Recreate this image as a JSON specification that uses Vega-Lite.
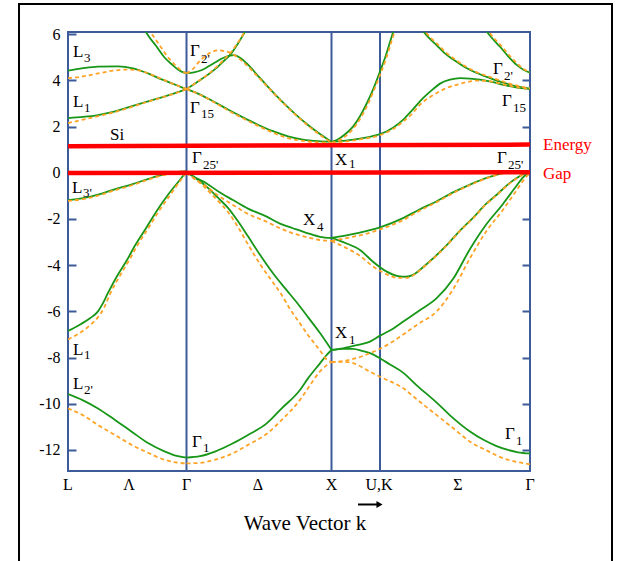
{
"$schema": "https://vega.github.io/schema/vega-lite/v6.json",
"width": 462, "height": 439,
"autosize": {"type": "none"},
"padding": {"left": 68, "top": 32, "right": 87, "bottom": 90},
"background": "white",
"config": {"view": {"stroke": "#3d5a99", "strokeWidth": 2}, "font": "Liberation Serif, Times New Roman, serif"},
"datasets": {
"green": [
{"b":"g1","x":0,"E":4.42},{"b":"g1","x":15,"E":4.53},{"b":"g1","x":30,"E":4.6},{"b":"g1","x":50,"E":4.61},{"b":"g1","x":65,"E":4.52},{"b":"g1","x":80,"E":4.3},{"b":"g1","x":95,"E":4.02},{"b":"g1","x":108,"E":3.8},{"b":"g1","x":118.5,"E":3.62},
{"b":"g2","x":0,"E":2.37},{"b":"g2","x":15,"E":2.42},{"b":"g2","x":30,"E":2.5},{"b":"g2","x":45,"E":2.64},{"b":"g2","x":60,"E":2.83},{"b":"g2","x":75,"E":3.03},{"b":"g2","x":90,"E":3.22},{"b":"g2","x":105,"E":3.42},{"b":"g2","x":118.5,"E":3.62},
{"b":"g3","x":76,"E":6.25},{"b":"g3","x":80,"E":5.95},{"b":"g3","x":88,"E":5.5},{"b":"g3","x":97,"E":4.97},{"b":"g3","x":105,"E":4.65},{"b":"g3","x":110,"E":4.47},{"b":"g3","x":114,"E":4.37},{"b":"g3","x":118.5,"E":4.32},
{"b":"g4","x":118.5,"E":3.62},{"b":"g4","x":130,"E":3.95},{"b":"g4","x":140,"E":4.25},{"b":"g4","x":148,"E":4.52},{"b":"g4","x":156,"E":4.85},{"b":"g4","x":163,"E":5.15},{"b":"g4","x":170,"E":5.6},{"b":"g4","x":177,"E":6.1},{"b":"g4","x":181,"E":6.4},
{"b":"g5","x":118.5,"E":4.32},{"b":"g5","x":126,"E":4.35},{"b":"g5","x":134,"E":4.45},{"b":"g5","x":141,"E":4.62},{"b":"g5","x":148,"E":4.8},{"b":"g5","x":155,"E":4.97},{"b":"g5","x":162,"E":5.07},{"b":"g5","x":166,"E":5.09},{"b":"g5","x":172,"E":4.98},{"b":"g5","x":180,"E":4.68},{"b":"g5","x":190,"E":4.2},{"b":"g5","x":200,"E":3.72},{"b":"g5","x":213.7,"E":3.1},{"b":"g5","x":227,"E":2.55},{"b":"g5","x":240,"E":2.07},{"b":"g5","x":252,"E":1.68},{"b":"g5","x":263.5,"E":1.34},
{"b":"g6","x":118.5,"E":3.62},{"b":"g6","x":130,"E":3.43},{"b":"g6","x":145,"E":3.1},{"b":"g6","x":160,"E":2.74},{"b":"g6","x":175,"E":2.4},{"b":"g6","x":190,"E":2.08},{"b":"g6","x":205,"E":1.8},{"b":"g6","x":220,"E":1.58},{"b":"g6","x":235,"E":1.44},{"b":"g6","x":250,"E":1.37},{"b":"g6","x":263.5,"E":1.34},
{"b":"g7","x":263.5,"E":1.34},{"b":"g7","x":268.7,"E":1.42},{"b":"g7","x":278,"E":1.7},{"b":"g7","x":285,"E":2.0},{"b":"g7","x":292,"E":2.45},{"b":"g7","x":298.7,"E":3.0},{"b":"g7","x":305,"E":3.6},{"b":"g7","x":312,"E":4.38},{"b":"g7","x":318,"E":5.1},{"b":"g7","x":325.3,"E":6.1},{"b":"g7","x":328,"E":6.4},
{"b":"g8","x":263.5,"E":1.34},{"b":"g8","x":275,"E":1.38},{"b":"g8","x":290,"E":1.47},{"b":"g8","x":302,"E":1.56},{"b":"g8","x":312,"E":1.67},{"b":"g8","x":325,"E":1.95},{"b":"g8","x":335.3,"E":2.3},{"b":"g8","x":345,"E":2.75},{"b":"g8","x":355.3,"E":3.24},{"b":"g8","x":365,"E":3.62},{"b":"g8","x":372,"E":3.86},{"b":"g8","x":382,"E":4.03},{"b":"g8","x":392,"E":4.1},{"b":"g8","x":402,"E":4.08},{"b":"g8","x":412,"E":4.03},{"b":"g8","x":425,"E":3.92},{"b":"g8","x":435.3,"E":3.81},{"b":"g8","x":448,"E":3.7},{"b":"g8","x":462,"E":3.63},
{"b":"g9","x":352,"E":6.3},{"b":"g9","x":355.3,"E":6.12},{"b":"g9","x":360,"E":5.88},{"b":"g9","x":368.7,"E":5.52},{"b":"g9","x":376,"E":5.2},{"b":"g9","x":385.3,"E":4.9},{"b":"g9","x":397,"E":4.57},{"b":"g9","x":408.7,"E":4.32},{"b":"g9","x":422,"E":4.1},{"b":"g9","x":435.3,"E":3.9},{"b":"g9","x":448,"E":3.75},{"b":"g9","x":462,"E":3.64},
{"b":"g10","x":416,"E":6.3},{"b":"g10","x":418.7,"E":6.12},{"b":"g10","x":425,"E":5.78},{"b":"g10","x":432,"E":5.46},{"b":"g10","x":440,"E":5.05},{"b":"g10","x":448.7,"E":4.67},{"b":"g10","x":455,"E":4.47},{"b":"g10","x":462,"E":4.33},
{"b":"g11","x":0,"E":-1.19},{"b":"g11","x":15,"E":-1.1},{"b":"g11","x":30,"E":-0.95},{"b":"g11","x":45,"E":-0.74},{"b":"g11","x":64,"E":-0.5},{"b":"g11","x":80,"E":-0.27},{"b":"g11","x":97,"E":-0.06},{"b":"g11","x":108,"E":0.03},{"b":"g11","x":118.5,"E":0.06},
{"b":"g12","x":0,"E":-6.85},{"b":"g12","x":10,"E":-6.62},{"b":"g12","x":22,"E":-6.3},{"b":"g12","x":30,"E":-6.0},{"b":"g12","x":34,"E":-5.72},{"b":"g12","x":40,"E":-5.2},{"b":"g12","x":50,"E":-4.4},{"b":"g12","x":58.7,"E":-3.8},{"b":"g12","x":67,"E":-3.15},{"b":"g12","x":78,"E":-2.4},{"b":"g12","x":88.7,"E":-1.65},{"b":"g12","x":100,"E":-0.95},{"b":"g12","x":112,"E":-0.3},{"b":"g12","x":118.5,"E":0.06},
{"b":"g13","x":0,"E":-9.58},{"b":"g13","x":15,"E":-9.85},{"b":"g13","x":30,"E":-10.2},{"b":"g13","x":47,"E":-10.7},{"b":"g13","x":63.7,"E":-11.21},{"b":"g13","x":80,"E":-11.7},{"b":"g13","x":97,"E":-12.07},{"b":"g13","x":110,"E":-12.27},{"b":"g13","x":118.5,"E":-12.33},
{"b":"g14","x":118.5,"E":-12.33},{"b":"g14","x":132,"E":-12.27},{"b":"g14","x":147,"E":-12.07},{"b":"g14","x":165,"E":-11.71},{"b":"g14","x":180,"E":-11.35},{"b":"g14","x":198.7,"E":-10.85},{"b":"g14","x":213.7,"E":-10.2},{"b":"g14","x":232,"E":-9.4},{"b":"g14","x":240,"E":-8.9},{"b":"g14","x":252,"E":-8.25},{"b":"g14","x":258,"E":-7.92},{"b":"g14","x":263.5,"E":-7.67},
{"b":"g15","x":118.5,"E":0.06},{"b":"g15","x":125,"E":-0.15},{"b":"g15","x":138.7,"E":-0.46},{"b":"g15","x":150,"E":-0.8},{"b":"g15","x":165,"E":-1.18},{"b":"g15","x":180,"E":-1.55},{"b":"g15","x":198.7,"E":-1.9},{"b":"g15","x":212,"E":-2.2},{"b":"g15","x":225,"E":-2.4},{"b":"g15","x":240,"E":-2.62},{"b":"g15","x":252,"E":-2.77},{"b":"g15","x":263.5,"E":-2.82},
{"b":"g16","x":118.5,"E":0.06},{"b":"g16","x":125,"E":-0.15},{"b":"g16","x":133,"E":-0.4},{"b":"g16","x":141,"E":-0.7},{"b":"g16","x":150,"E":-1.08},{"b":"g16","x":160,"E":-1.52},{"b":"g16","x":170,"E":-2.1},{"b":"g16","x":180,"E":-2.75},{"b":"g16","x":192,"E":-3.55},{"b":"g16","x":205,"E":-4.35},{"b":"g16","x":218,"E":-5.05},{"b":"g16","x":230,"E":-5.68},{"b":"g16","x":240,"E":-6.25},{"b":"g16","x":252,"E":-6.94},{"b":"g16","x":263.5,"E":-7.67},
{"b":"g17","x":263.5,"E":-2.82},{"b":"g17","x":282,"E":-2.68},{"b":"g17","x":300,"E":-2.5},{"b":"g17","x":312,"E":-2.36},{"b":"g17","x":335,"E":-1.96},{"b":"g17","x":350,"E":-1.62},{"b":"g17","x":368.7,"E":-1.23},{"b":"g17","x":385,"E":-0.85},{"b":"g17","x":402,"E":-0.51},{"b":"g17","x":420,"E":-0.2},{"b":"g17","x":435.3,"E":-0.01},{"b":"g17","x":448,"E":0.04},{"b":"g17","x":462,"E":0.06},
{"b":"g18","x":263.5,"E":-2.82},{"b":"g18","x":278,"E":-3.05},{"b":"g18","x":292,"E":-3.34},{"b":"g18","x":305,"E":-3.85},{"b":"g18","x":318.7,"E":-4.28},{"b":"g18","x":330,"E":-4.47},{"b":"g18","x":338,"E":-4.5},{"b":"g18","x":345,"E":-4.42},{"b":"g18","x":352,"E":-4.2},{"b":"g18","x":360,"E":-3.9},{"b":"g18","x":368.7,"E":-3.56},{"b":"g18","x":378.7,"E":-3.13},{"b":"g18","x":392,"E":-2.5},{"b":"g18","x":405,"E":-1.95},{"b":"g18","x":418,"E":-1.35},{"b":"g18","x":428.7,"E":-0.95},{"b":"g18","x":440,"E":-0.5},{"b":"g18","x":448.7,"E":-0.23},{"b":"g18","x":455,"E":-0.06},{"b":"g18","x":462,"E":0.06},
{"b":"g19","x":263.5,"E":-7.67},{"b":"g19","x":275,"E":-7.6},{"b":"g19","x":290,"E":-7.45},{"b":"g19","x":302,"E":-7.31},{"b":"g19","x":312,"E":-7.05},{"b":"g19","x":325,"E":-6.75},{"b":"g19","x":335.3,"E":-6.44},{"b":"g19","x":350,"E":-6.0},{"b":"g19","x":368.7,"E":-5.43},{"b":"g19","x":385,"E":-4.6},{"b":"g19","x":402,"E":-3.3},{"b":"g19","x":418,"E":-2.25},{"b":"g19","x":435,"E":-1.35},{"b":"g19","x":448.7,"E":-0.55},{"b":"g19","x":455,"E":-0.2},{"b":"g19","x":462,"E":0.06},
{"b":"g20","x":263.5,"E":-7.67},{"b":"g20","x":275,"E":-7.62},{"b":"g20","x":285,"E":-7.62},{"b":"g20","x":295,"E":-7.72},{"b":"g20","x":302,"E":-7.81},{"b":"g20","x":312,"E":-8.03},{"b":"g20","x":322,"E":-8.3},{"b":"g20","x":335,"E":-8.65},{"b":"g20","x":348.7,"E":-9.2},{"b":"g20","x":368.7,"E":-9.95},{"b":"g20","x":382,"E":-10.5},{"b":"g20","x":402,"E":-11.2},{"b":"g20","x":415,"E":-11.55},{"b":"g20","x":428,"E":-11.82},{"b":"g20","x":440,"E":-12.0},{"b":"g20","x":450,"E":-12.1},{"b":"g20","x":462,"E":-12.15}
],
"orange": [
{"b":"o1","x":0,"E":4.1},{"b":"o1","x":15,"E":4.17},{"b":"o1","x":30,"E":4.3},{"b":"o1","x":45,"E":4.42},{"b":"o1","x":60,"E":4.47},{"b":"o1","x":72,"E":4.42},{"b":"o1","x":85,"E":4.22},{"b":"o1","x":97,"E":4.0},{"b":"o1","x":108,"E":3.8},{"b":"o1","x":118.5,"E":3.63},
{"b":"o2","x":0,"E":2.15},{"b":"o2","x":15,"E":2.3},{"b":"o2","x":30,"E":2.45},{"b":"o2","x":45,"E":2.61},{"b":"o2","x":60,"E":2.8},{"b":"o2","x":75,"E":3.01},{"b":"o2","x":90,"E":3.21},{"b":"o2","x":105,"E":3.41},{"b":"o2","x":118.5,"E":3.62},
{"b":"o3","x":80,"E":6.25},{"b":"o3","x":84,"E":6.0},{"b":"o3","x":92,"E":5.5},{"b":"o3","x":100,"E":5.0},{"b":"o3","x":107,"E":4.67},{"b":"o3","x":112,"E":4.47},{"b":"o3","x":118.5,"E":4.3},
{"b":"o4","x":118.5,"E":3.62},{"b":"o4","x":130,"E":3.96},{"b":"o4","x":140,"E":4.27},{"b":"o4","x":148,"E":4.56},{"b":"o4","x":156,"E":4.9},{"b":"o4","x":163,"E":5.22},{"b":"o4","x":170,"E":5.64},{"b":"o4","x":177,"E":6.12},{"b":"o4","x":181,"E":6.42},
{"b":"o5","x":118.5,"E":4.3},{"b":"o5","x":125,"E":4.5},{"b":"o5","x":132,"E":4.85},{"b":"o5","x":138.7,"E":5.1},{"b":"o5","x":145,"E":5.25},{"b":"o5","x":150,"E":5.3},{"b":"o5","x":156,"E":5.27},{"b":"o5","x":162,"E":5.2},{"b":"o5","x":172,"E":4.91},{"b":"o5","x":180,"E":4.6},{"b":"o5","x":190,"E":4.15},{"b":"o5","x":200,"E":3.7},{"b":"o5","x":213.7,"E":3.08},{"b":"o5","x":227,"E":2.53},{"b":"o5","x":240,"E":2.04},{"b":"o5","x":252,"E":1.64},{"b":"o5","x":263.5,"E":1.3},
{"b":"o6","x":118.5,"E":3.62},{"b":"o6","x":130,"E":3.42},{"b":"o6","x":145,"E":3.08},{"b":"o6","x":160,"E":2.7},{"b":"o6","x":175,"E":2.36},{"b":"o6","x":190,"E":2.03},{"b":"o6","x":205,"E":1.74},{"b":"o6","x":220,"E":1.5},{"b":"o6","x":235,"E":1.38},{"b":"o6","x":250,"E":1.32},{"b":"o6","x":263.5,"E":1.3},
{"b":"o7","x":263.5,"E":1.3},{"b":"o7","x":268.7,"E":1.36},{"b":"o7","x":278,"E":1.6},{"b":"o7","x":285,"E":1.9},{"b":"o7","x":292,"E":2.33},{"b":"o7","x":298.7,"E":2.86},{"b":"o7","x":305,"E":3.48},{"b":"o7","x":312,"E":4.23},{"b":"o7","x":318,"E":4.93},{"b":"o7","x":325.3,"E":5.93},{"b":"o7","x":329,"E":6.4},
{"b":"o8","x":263.5,"E":1.3},{"b":"o8","x":275,"E":1.34},{"b":"o8","x":290,"E":1.43},{"b":"o8","x":302,"E":1.52},{"b":"o8","x":312,"E":1.63},{"b":"o8","x":325,"E":1.9},{"b":"o8","x":335.3,"E":2.22},{"b":"o8","x":345,"E":2.6},{"b":"o8","x":352,"E":2.95},{"b":"o8","x":360,"E":3.22},{"b":"o8","x":368.7,"E":3.45},{"b":"o8","x":378,"E":3.66},{"b":"o8","x":388.7,"E":3.81},{"b":"o8","x":398,"E":3.92},{"b":"o8","x":408.7,"E":3.99},{"b":"o8","x":420,"E":3.97},{"b":"o8","x":435.3,"E":3.83},{"b":"o8","x":448,"E":3.71},{"b":"o8","x":462,"E":3.63},
{"b":"o9","x":354,"E":6.3},{"b":"o9","x":357,"E":6.12},{"b":"o9","x":362,"E":5.88},{"b":"o9","x":370.7,"E":5.52},{"b":"o9","x":378,"E":5.2},{"b":"o9","x":387.3,"E":4.9},{"b":"o9","x":399,"E":4.57},{"b":"o9","x":410.7,"E":4.32},{"b":"o9","x":424,"E":4.12},{"b":"o9","x":437,"E":3.92},{"b":"o9","x":449,"E":3.77},{"b":"o9","x":462,"E":3.66},
{"b":"o10","x":418,"E":6.3},{"b":"o10","x":420.7,"E":6.12},{"b":"o10","x":427,"E":5.78},{"b":"o10","x":434,"E":5.46},{"b":"o10","x":442,"E":5.05},{"b":"o10","x":450.7,"E":4.67},{"b":"o10","x":456,"E":4.48},{"b":"o10","x":462,"E":4.36},
{"b":"o11","x":0,"E":-1.22},{"b":"o11","x":15,"E":-1.14},{"b":"o11","x":30,"E":-0.99},{"b":"o11","x":45,"E":-0.78},{"b":"o11","x":64,"E":-0.54},{"b":"o11","x":80,"E":-0.3},{"b":"o11","x":97,"E":-0.09},{"b":"o11","x":108,"E":0.0},{"b":"o11","x":118.5,"E":0.02},
{"b":"o12","x":0,"E":-7.22},{"b":"o12","x":10,"E":-6.98},{"b":"o12","x":22,"E":-6.6},{"b":"o12","x":30,"E":-6.25},{"b":"o12","x":36,"E":-5.85},{"b":"o12","x":42,"E":-5.25},{"b":"o12","x":52,"E":-4.45},{"b":"o12","x":60.7,"E":-3.82},{"b":"o12","x":69,"E":-3.17},{"b":"o12","x":80,"E":-2.42},{"b":"o12","x":90.7,"E":-1.67},{"b":"o12","x":102,"E":-0.97},{"b":"o12","x":113,"E":-0.3},{"b":"o12","x":118.5,"E":0.0},
{"b":"o13","x":0,"E":-10.2},{"b":"o13","x":15,"E":-10.5},{"b":"o13","x":30,"E":-10.92},{"b":"o13","x":47,"E":-11.35},{"b":"o13","x":63.7,"E":-11.78},{"b":"o13","x":80,"E":-12.12},{"b":"o13","x":97,"E":-12.43},{"b":"o13","x":110,"E":-12.55},{"b":"o13","x":118.5,"E":-12.58},
{"b":"o14","x":118.5,"E":-12.58},{"b":"o14","x":132,"E":-12.56},{"b":"o14","x":147,"E":-12.42},{"b":"o14","x":165,"E":-12.14},{"b":"o14","x":180,"E":-11.78},{"b":"o14","x":198.7,"E":-11.3},{"b":"o14","x":213.7,"E":-10.7},{"b":"o14","x":232,"E":-9.83},{"b":"o14","x":240,"E":-9.33},{"b":"o14","x":252,"E":-8.6},{"b":"o14","x":257,"E":-8.39},{"b":"o14","x":263.5,"E":-8.2},
{"b":"o15","x":118.5,"E":0.0},{"b":"o15","x":125,"E":-0.22},{"b":"o15","x":138.7,"E":-0.6},{"b":"o15","x":150,"E":-0.98},{"b":"o15","x":165,"E":-1.39},{"b":"o15","x":180,"E":-1.78},{"b":"o15","x":198.7,"E":-2.12},{"b":"o15","x":212,"E":-2.4},{"b":"o15","x":225,"E":-2.62},{"b":"o15","x":240,"E":-2.8},{"b":"o15","x":252,"E":-2.91},{"b":"o15","x":263.5,"E":-2.95},
{"b":"o16","x":118.5,"E":0.0},{"b":"o16","x":125,"E":-0.2},{"b":"o16","x":133,"E":-0.48},{"b":"o16","x":141,"E":-0.82},{"b":"o16","x":150,"E":-1.22},{"b":"o16","x":160,"E":-1.7},{"b":"o16","x":170,"E":-2.35},{"b":"o16","x":180,"E":-3.1},{"b":"o16","x":192,"E":-3.95},{"b":"o16","x":205,"E":-4.75},{"b":"o16","x":213.7,"E":-5.29},{"b":"o16","x":222,"E":-5.9},{"b":"o16","x":230,"E":-6.4},{"b":"o16","x":240,"E":-7.02},{"b":"o16","x":252,"E":-7.7},{"b":"o16","x":258,"E":-8.05},{"b":"o16","x":263.5,"E":-8.2},
{"b":"o17","x":263.5,"E":-2.95},{"b":"o17","x":282,"E":-2.8},{"b":"o17","x":300,"E":-2.62},{"b":"o17","x":312,"E":-2.45},{"b":"o17","x":335,"E":-2.05},{"b":"o17","x":350,"E":-1.68},{"b":"o17","x":368.7,"E":-1.27},{"b":"o17","x":385,"E":-0.88},{"b":"o17","x":402,"E":-0.53},{"b":"o17","x":420,"E":-0.22},{"b":"o17","x":435,"E":-0.03},{"b":"o17","x":448,"E":0.02},{"b":"o17","x":462,"E":0.03},
{"b":"o18","x":263.5,"E":-2.95},{"b":"o18","x":278,"E":-3.25},{"b":"o18","x":292,"E":-3.6},{"b":"o18","x":305,"E":-4.05},{"b":"o18","x":318.7,"E":-4.4},{"b":"o18","x":330,"E":-4.55},{"b":"o18","x":338,"E":-4.55},{"b":"o18","x":345,"E":-4.45},{"b":"o18","x":352,"E":-4.22},{"b":"o18","x":360,"E":-3.92},{"b":"o18","x":368.7,"E":-3.58},{"b":"o18","x":378.7,"E":-3.15},{"b":"o18","x":392,"E":-2.52},{"b":"o18","x":405,"E":-1.97},{"b":"o18","x":418,"E":-1.37},{"b":"o18","x":428.7,"E":-0.97},{"b":"o18","x":440,"E":-0.52},{"b":"o18","x":448.7,"E":-0.25},{"b":"o18","x":455,"E":-0.08},{"b":"o18","x":462,"E":0.03},
{"b":"o19","x":263.5,"E":-8.2},{"b":"o19","x":275,"E":-8.15},{"b":"o19","x":290,"E":-8.0},{"b":"o19","x":302,"E":-7.81},{"b":"o19","x":312,"E":-7.62},{"b":"o19","x":325,"E":-7.3},{"b":"o19","x":335.3,"E":-7.0},{"b":"o19","x":350,"E":-6.55},{"b":"o19","x":368.7,"E":-6.0},{"b":"o19","x":385,"E":-5.05},{"b":"o19","x":402,"E":-3.7},{"b":"o19","x":418,"E":-2.55},{"b":"o19","x":435,"E":-1.6},{"b":"o19","x":448.7,"E":-0.75},{"b":"o19","x":455,"E":-0.35},{"b":"o19","x":462,"E":0.0},
{"b":"o20","x":263.5,"E":-8.2},{"b":"o20","x":275,"E":-8.18},{"b":"o20","x":285,"E":-8.24},{"b":"o20","x":302,"E":-8.61},{"b":"o20","x":312,"E":-8.83},{"b":"o20","x":335.3,"E":-9.33},{"b":"o20","x":350,"E":-9.85},{"b":"o20","x":368.7,"E":-10.49},{"b":"o20","x":385,"E":-11.05},{"b":"o20","x":402,"E":-11.64},{"b":"o20","x":420,"E":-12.05},{"b":"o20","x":435.3,"E":-12.36},{"b":"o20","x":450,"E":-12.53},{"b":"o20","x":462,"E":-12.62}
],
"labels": [
{"t":"L","x":5,"E":5.01},{"t":"L","x":5,"E":2.85},{"t":"Si","x":42,"E":1.42},{"t":"L","x":4,"E":-0.87},{"t":"L","x":5,"E":-7.89},{"t":"L","x":5,"E":-9.36},
{"t":"Γ","x":122,"E":5.06},{"t":"Γ","x":122,"E":2.59},{"t":"Γ","x":124,"E":0.42},{"t":"X","x":267,"E":0.34},{"t":"X","x":235,"E":-2.26},{"t":"X","x":267,"E":-7.15},{"t":"Γ","x":124,"E":-11.87},
{"t":"Γ","x":425,"E":4.28},{"t":"Γ","x":434,"E":2.89},{"t":"Γ","x":429,"E":0.42},{"t":"Γ","x":437,"E":-11.52}
],
"subs": [
{"t":"3","x":16,"E":4.8},{"t":"1","x":16,"E":2.63},{"t":"3'","x":15,"E":-1.05},{"t":"1","x":16,"E":-8.06},{"t":"2'","x":16,"E":-9.58},
{"t":"2'","x":133,"E":4.75},{"t":"15","x":133,"E":2.37},{"t":"25'","x":135,"E":0.17},{"t":"1","x":281,"E":0.21},{"t":"4","x":249,"E":-2.52},{"t":"1","x":281,"E":-7.41},{"t":"1","x":135,"E":-12.09},
{"t":"2'","x":436,"E":4.02},{"t":"15","x":445,"E":2.63},{"t":"25'","x":440,"E":0.17},{"t":"1","x":448,"E":-11.78}
],
"kpts": [
{"n":"L","k":0},{"n":"Λ","k":61},{"n":"Γ","k":118.5},{"n":"Δ","k":190},{"n":"X","k":263.5},{"n":"U,K","k":311},{"n":"Σ","k":390},{"n":"Γ","k":462}
]
},
"layer": [
{"data": {"values": [{"k":118.5},{"k":263.5},{"k":312}]},
 "mark": {"type":"rule","color":"#3d5a99","strokeWidth":2},
 "encoding": {"x": {"field":"k","type":"quantitative","scale":{"domain":[0,462],"nice":false,"zero":false},"axis":null}}},
{"data": {"name":"green"},
 "mark": {"type":"line","interpolate":"monotone","color":"#179617","strokeWidth":1.8,"clip":true},
 "encoding": {
  "x": {"field":"x","type":"quantitative","scale":{"domain":[0,462],"nice":false,"zero":false},"axis":null},
  "y": {"field":"E","type":"quantitative","scale":{"domain":[-12.91,6.095],"nice":false,"zero":false},
   "axis": {"orient":"left","title":null,"values":[-12,-10,-8,-6,-4,-2,0,2,4,6],"labelExpr":"''+datum.value","tickSize":-8,"tickColor":"#3d5a99","tickWidth":2,"domain":false,"grid":false,"labelFont":"Liberation Serif, Times New Roman, serif","labelFontSize":16,"labelColor":"black","labelPadding":16}},
  "detail": {"field":"b","type":"nominal"}}},
{"data": {"name":"orange"},
 "mark": {"type":"line","interpolate":"monotone","color":"#ffa326","strokeWidth":1.8,"strokeDash":[4,3],"clip":true},
 "encoding": {
  "x": {"field":"x","type":"quantitative","scale":{"domain":[0,462],"nice":false,"zero":false},"axis":null},
  "y": {"field":"E","type":"quantitative","scale":{"domain":[-12.91,6.095],"nice":false,"zero":false},
   "axis": {"orient":"right","title":null,"values":[-12,-10,-8,-6,-4,-2,2,4],"labels":false,"tickSize":-8,"tickColor":"#3d5a99","tickWidth":2,"domain":false,"grid":false}},
  "detail": {"field":"b","type":"nominal"}}},
{"data": {"values": [{"x1":0,"x2":462,"e1":1.15,"e2":1.22},{"x1":0,"x2":462,"e1":-0.01,"e2":0.02}]},
 "mark": {"type":"rule","color":"#ff0000","strokeWidth":4.5},
 "encoding": {
  "x": {"field":"x1","type":"quantitative","scale":{"domain":[0,462],"nice":false,"zero":false},"axis":null},
  "x2": {"field":"x2"},
  "y": {"field":"e1","type":"quantitative","scale":{"domain":[-12.91,6.095],"nice":false,"zero":false},"axis":null},
  "y2": {"field":"e2"}}},
{"data": {"name":"labels"},
 "mark": {"type":"text","align":"left","baseline":"alphabetic","font":"Liberation Serif, Times New Roman, serif","fontSize":17,"color":"black"},
 "encoding": {
  "x": {"field":"x","type":"quantitative","scale":{"domain":[0,462],"nice":false,"zero":false},"axis":null},
  "y": {"field":"E","type":"quantitative","scale":{"domain":[-12.91,6.095],"nice":false,"zero":false},"axis":null},
  "text": {"field":"t"}}},
{"data": {"name":"subs"},
 "mark": {"type":"text","align":"left","baseline":"alphabetic","font":"Liberation Serif, Times New Roman, serif","fontSize":13,"color":"black"},
 "encoding": {
  "x": {"field":"x","type":"quantitative","scale":{"domain":[0,462],"nice":false,"zero":false},"axis":null},
  "y": {"field":"E","type":"quantitative","scale":{"domain":[-12.91,6.095],"nice":false,"zero":false},"axis":null},
  "text": {"field":"t"}}},
{"data": {"name":"kpts"},
 "mark": {"type":"text","align":"center","baseline":"alphabetic","font":"Liberation Serif, Times New Roman, serif","fontSize":16,"color":"black"},
 "encoding": {
  "x": {"field":"k","type":"quantitative","scale":{"domain":[0,462],"nice":false,"zero":false},"axis":null},
  "y": {"datum":-13.73,"type":"quantitative","scale":{"domain":[-12.91,6.095],"nice":false,"zero":false},"axis":null},
  "text": {"field":"n"}}},
{"data": {"values": [{"t":"Wave Vector k","x":237,"E":-15.46}]},
 "mark": {"type":"text","align":"center","baseline":"alphabetic","font":"Liberation Serif, Times New Roman, serif","fontSize":21,"color":"black"},
 "encoding": {
  "x": {"field":"x","type":"quantitative","scale":{"domain":[0,462],"nice":false,"zero":false},"axis":null},
  "y": {"field":"E","type":"quantitative","scale":{"domain":[-12.91,6.095],"nice":false,"zero":false},"axis":null},
  "text": {"field":"t"}}},
{"data": {"values": [{"t":"Energy","x":475,"E":0.98},{"t":"Gap","x":475,"E":-0.27}]},
 "mark": {"type":"text","align":"left","baseline":"alphabetic","font":"Liberation Serif, Times New Roman, serif","fontSize":17,"color":"#ff0000"},
 "encoding": {
  "x": {"field":"x","type":"quantitative","scale":{"domain":[0,462],"nice":false,"zero":false},"axis":null},
  "y": {"field":"E","type":"quantitative","scale":{"domain":[-12.91,6.095],"nice":false,"zero":false},"axis":null},
  "text": {"field":"t"}}},
{"data": {"values": [{}]},
 "mark": {"type":"rect","filled":false,"stroke":"black","strokeWidth":2},
 "encoding": {
  "x": {"datum":-49,"type":"quantitative","scale":{"domain":[0,462],"nice":false,"zero":false},"axis":null},
  "x2": {"datum":544},
  "y": {"datum":7.31,"type":"quantitative","scale":{"domain":[-12.91,6.095],"nice":false,"zero":false},"axis":null},
  "y2": {"datum":-20}}},
{"data": {"values": [{}]},
 "mark": {"type":"rule","color":"black","strokeWidth":2},
 "encoding": {
  "x": {"datum":290,"type":"quantitative","scale":{"domain":[0,462],"nice":false,"zero":false},"axis":null},
  "x2": {"datum":309},
  "y": {"datum":-14.36,"type":"quantitative","scale":{"domain":[-12.91,6.095],"nice":false,"zero":false},"axis":null}}},
{"data": {"values": [{}]},
 "mark": {"type":"point","shape":"triangle-right","filled":true,"color":"black","size":50,"opacity":1},
 "encoding": {
  "x": {"datum":311.5,"type":"quantitative","scale":{"domain":[0,462],"nice":false,"zero":false},"axis":null},
  "y": {"datum":-14.36,"type":"quantitative","scale":{"domain":[-12.91,6.095],"nice":false,"zero":false},"axis":null}}}
],
"resolve": {"axis": {"y": "independent"}}
}
